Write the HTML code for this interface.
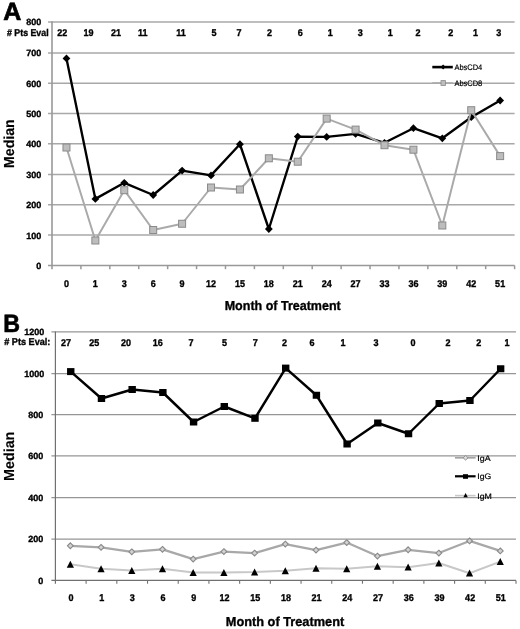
<!DOCTYPE html>
<html><head><meta charset="utf-8"><style>
html,body{margin:0;padding:0;background:#fff;}
body{width:520px;height:629px;overflow:hidden;}
svg{display:block;font-family:"Liberation Sans", sans-serif;will-change:transform;text-rendering:geometricPrecision;}
text[font-weight="bold"]{stroke:#000;stroke-width:0.35px;paint-order:stroke;}
text.lg{stroke:#000;stroke-width:0.2px;}
</style></head><body>
<svg width="520" height="629" viewBox="0 0 520 629">
<rect width="520" height="629" fill="#fff"/>
<line x1="48" y1="235" x2="514.6" y2="235" stroke="#a8a8a8" stroke-width="1.5"/>
<line x1="48" y1="204.8" x2="514.6" y2="204.8" stroke="#a8a8a8" stroke-width="1.5"/>
<line x1="48" y1="174.4" x2="514.6" y2="174.4" stroke="#a8a8a8" stroke-width="1.5"/>
<line x1="48" y1="143.85" x2="514.6" y2="143.85" stroke="#a8a8a8" stroke-width="1.5"/>
<line x1="48" y1="113.6" x2="514.6" y2="113.6" stroke="#a8a8a8" stroke-width="1.5"/>
<line x1="48" y1="83.2" x2="514.6" y2="83.2" stroke="#a8a8a8" stroke-width="1.5"/>
<line x1="48" y1="52.95" x2="514.6" y2="52.95" stroke="#a8a8a8" stroke-width="1.5"/>
<line x1="48" y1="21.95" x2="514.6" y2="21.95" stroke="#a8a8a8" stroke-width="1.5"/>
<line x1="48" y1="265.5" x2="514.6" y2="265.5" stroke="#999999" stroke-width="1.5"/>
<line x1="52" y1="21.25" x2="52" y2="269.2" stroke="#999999" stroke-width="1.6"/>
<line x1="80.91" y1="265.5" x2="80.91" y2="269.2" stroke="#999999" stroke-width="1.5"/>
<line x1="109.83" y1="265.5" x2="109.83" y2="269.2" stroke="#999999" stroke-width="1.5"/>
<line x1="138.74" y1="265.5" x2="138.74" y2="269.2" stroke="#999999" stroke-width="1.5"/>
<line x1="167.65" y1="265.5" x2="167.65" y2="269.2" stroke="#999999" stroke-width="1.5"/>
<line x1="196.56" y1="265.5" x2="196.56" y2="269.2" stroke="#999999" stroke-width="1.5"/>
<line x1="225.48" y1="265.5" x2="225.48" y2="269.2" stroke="#999999" stroke-width="1.5"/>
<line x1="254.39" y1="265.5" x2="254.39" y2="269.2" stroke="#999999" stroke-width="1.5"/>
<line x1="283.3" y1="265.5" x2="283.3" y2="269.2" stroke="#999999" stroke-width="1.5"/>
<line x1="312.21" y1="265.5" x2="312.21" y2="269.2" stroke="#999999" stroke-width="1.5"/>
<line x1="341.12" y1="265.5" x2="341.12" y2="269.2" stroke="#999999" stroke-width="1.5"/>
<line x1="370.04" y1="265.5" x2="370.04" y2="269.2" stroke="#999999" stroke-width="1.5"/>
<line x1="398.95" y1="265.5" x2="398.95" y2="269.2" stroke="#999999" stroke-width="1.5"/>
<line x1="427.86" y1="265.5" x2="427.86" y2="269.2" stroke="#999999" stroke-width="1.5"/>
<line x1="456.78" y1="265.5" x2="456.78" y2="269.2" stroke="#999999" stroke-width="1.5"/>
<line x1="485.69" y1="265.5" x2="485.69" y2="269.2" stroke="#999999" stroke-width="1.5"/>
<line x1="514.6" y1="265.5" x2="514.6" y2="269.2" stroke="#999999" stroke-width="1.5"/>
<text x="41.3" y="269" font-size="9" font-weight="bold" text-anchor="end" fill="#000">0</text>
<text x="41.3" y="238.5" font-size="9" font-weight="bold" text-anchor="end" fill="#000">100</text>
<text x="41.3" y="208.3" font-size="9" font-weight="bold" text-anchor="end" fill="#000">200</text>
<text x="41.3" y="177.9" font-size="9" font-weight="bold" text-anchor="end" fill="#000">300</text>
<text x="41.3" y="147.35" font-size="9" font-weight="bold" text-anchor="end" fill="#000">400</text>
<text x="41.3" y="117.1" font-size="9" font-weight="bold" text-anchor="end" fill="#000">500</text>
<text x="41.3" y="86.7" font-size="9" font-weight="bold" text-anchor="end" fill="#000">600</text>
<text x="41.3" y="56.45" font-size="9" font-weight="bold" text-anchor="end" fill="#000">700</text>
<text x="41.3" y="25.45" font-size="9" font-weight="bold" text-anchor="end" fill="#000">800</text>
<text transform="translate(66.46,286.8) scale(0.92,1)" font-size="9.8" font-weight="bold" text-anchor="middle" fill="#000">0</text>
<text transform="translate(95.37,286.8) scale(0.92,1)" font-size="9.8" font-weight="bold" text-anchor="middle" fill="#000">1</text>
<text transform="translate(124.28,286.8) scale(0.92,1)" font-size="9.8" font-weight="bold" text-anchor="middle" fill="#000">3</text>
<text transform="translate(153.19,286.8) scale(0.92,1)" font-size="9.8" font-weight="bold" text-anchor="middle" fill="#000">6</text>
<text transform="translate(182.11,286.8) scale(0.92,1)" font-size="9.8" font-weight="bold" text-anchor="middle" fill="#000">9</text>
<text transform="translate(211.02,286.8) scale(0.92,1)" font-size="9.8" font-weight="bold" text-anchor="middle" fill="#000">12</text>
<text transform="translate(239.93,286.8) scale(0.92,1)" font-size="9.8" font-weight="bold" text-anchor="middle" fill="#000">15</text>
<text transform="translate(268.84,286.8) scale(0.92,1)" font-size="9.8" font-weight="bold" text-anchor="middle" fill="#000">18</text>
<text transform="translate(297.76,286.8) scale(0.92,1)" font-size="9.8" font-weight="bold" text-anchor="middle" fill="#000">21</text>
<text transform="translate(326.67,286.8) scale(0.92,1)" font-size="9.8" font-weight="bold" text-anchor="middle" fill="#000">24</text>
<text transform="translate(355.58,286.8) scale(0.92,1)" font-size="9.8" font-weight="bold" text-anchor="middle" fill="#000">27</text>
<text transform="translate(384.49,286.8) scale(0.92,1)" font-size="9.8" font-weight="bold" text-anchor="middle" fill="#000">33</text>
<text transform="translate(413.41,286.8) scale(0.92,1)" font-size="9.8" font-weight="bold" text-anchor="middle" fill="#000">36</text>
<text transform="translate(442.32,286.8) scale(0.92,1)" font-size="9.8" font-weight="bold" text-anchor="middle" fill="#000">39</text>
<text transform="translate(471.23,286.8) scale(0.92,1)" font-size="9.8" font-weight="bold" text-anchor="middle" fill="#000">42</text>
<text transform="translate(500.14,286.8) scale(0.92,1)" font-size="9.8" font-weight="bold" text-anchor="middle" fill="#000">51</text>
<text x="7" y="35.6" font-size="9.8" font-weight="bold" text-anchor="start" fill="#000" textLength="41.6" lengthAdjust="spacingAndGlyphs"># Pts Eval</text>
<text transform="translate(57.3,35.9) scale(0.92,1)" font-size="9.8" font-weight="bold" text-anchor="start" fill="#000">22</text>
<text transform="translate(83.4,35.9) scale(0.92,1)" font-size="9.8" font-weight="bold" text-anchor="start" fill="#000">19</text>
<text transform="translate(111.1,35.9) scale(0.92,1)" font-size="9.8" font-weight="bold" text-anchor="start" fill="#000">21</text>
<text transform="translate(138.1,35.9) scale(0.92,1)" font-size="9.8" font-weight="bold" text-anchor="start" fill="#000">11</text>
<text transform="translate(176.2,35.9) scale(0.92,1)" font-size="9.8" font-weight="bold" text-anchor="start" fill="#000">11</text>
<text transform="translate(211.4,35.9) scale(0.92,1)" font-size="9.8" font-weight="bold" text-anchor="start" fill="#000">5</text>
<text transform="translate(236.6,35.9) scale(0.92,1)" font-size="9.8" font-weight="bold" text-anchor="start" fill="#000">7</text>
<text transform="translate(266.9,35.9) scale(0.92,1)" font-size="9.8" font-weight="bold" text-anchor="start" fill="#000">2</text>
<text transform="translate(297.7,35.9) scale(0.92,1)" font-size="9.8" font-weight="bold" text-anchor="start" fill="#000">6</text>
<text transform="translate(327.7,35.9) scale(0.92,1)" font-size="9.8" font-weight="bold" text-anchor="start" fill="#000">1</text>
<text transform="translate(357.7,35.9) scale(0.92,1)" font-size="9.8" font-weight="bold" text-anchor="start" fill="#000">3</text>
<text transform="translate(387.7,35.9) scale(0.92,1)" font-size="9.8" font-weight="bold" text-anchor="start" fill="#000">1</text>
<text transform="translate(415.4,35.9) scale(0.92,1)" font-size="9.8" font-weight="bold" text-anchor="start" fill="#000">2</text>
<text transform="translate(448.2,35.9) scale(0.92,1)" font-size="9.8" font-weight="bold" text-anchor="start" fill="#000">2</text>
<text transform="translate(473.1,35.9) scale(0.92,1)" font-size="9.8" font-weight="bold" text-anchor="start" fill="#000">1</text>
<text transform="translate(496.2,35.9) scale(0.92,1)" font-size="9.8" font-weight="bold" text-anchor="start" fill="#000">3</text>
<text x="3.2" y="19.6" font-size="25" font-weight="bold" text-anchor="start" fill="#000" style="stroke-width:0.7px">A</text>
<text transform="translate(14.4,143.6) rotate(-90)" x="0" y="0" font-size="14.5" style="stroke-width:0.15px" font-weight="bold" text-anchor="middle" textLength="48.6" lengthAdjust="spacingAndGlyphs">Median</text>
<text x="224.7" y="310.2" font-size="13" font-weight="bold" text-anchor="start" fill="#000" textLength="116" lengthAdjust="spacingAndGlyphs">Month of Treatment</text>
<polyline points="66.46,58.4 95.37,198.9 124.28,182.8 153.19,195 182.11,170.6 211.02,175.4 239.93,144.25 268.84,229 297.76,136.6 326.67,136.9 355.58,133.9 384.49,142.8 413.41,128.2 442.32,138.3 471.23,117.2 500.14,100.5" fill="none" stroke="#000" stroke-width="2.35" stroke-linejoin="round"/>
<path d="M66.46 54.5 L70.36 58.4 L66.46 62.3 L62.56 58.4 Z" fill="#000"/>
<path d="M95.37 195 L99.27 198.9 L95.37 202.8 L91.47 198.9 Z" fill="#000"/>
<path d="M124.28 178.9 L128.18 182.8 L124.28 186.7 L120.38 182.8 Z" fill="#000"/>
<path d="M153.19 191.1 L157.09 195 L153.19 198.9 L149.29 195 Z" fill="#000"/>
<path d="M182.11 166.7 L186.01 170.6 L182.11 174.5 L178.21 170.6 Z" fill="#000"/>
<path d="M211.02 171.5 L214.92 175.4 L211.02 179.3 L207.12 175.4 Z" fill="#000"/>
<path d="M239.93 140.35 L243.83 144.25 L239.93 148.15 L236.03 144.25 Z" fill="#000"/>
<path d="M268.84 225.1 L272.74 229 L268.84 232.9 L264.94 229 Z" fill="#000"/>
<path d="M297.76 132.7 L301.66 136.6 L297.76 140.5 L293.86 136.6 Z" fill="#000"/>
<path d="M326.67 133 L330.57 136.9 L326.67 140.8 L322.77 136.9 Z" fill="#000"/>
<path d="M355.58 130 L359.48 133.9 L355.58 137.8 L351.68 133.9 Z" fill="#000"/>
<path d="M384.49 138.9 L388.39 142.8 L384.49 146.7 L380.59 142.8 Z" fill="#000"/>
<path d="M413.41 124.3 L417.31 128.2 L413.41 132.1 L409.51 128.2 Z" fill="#000"/>
<path d="M442.32 134.4 L446.22 138.3 L442.32 142.2 L438.42 138.3 Z" fill="#000"/>
<path d="M471.23 113.3 L475.13 117.2 L471.23 121.1 L467.33 117.2 Z" fill="#000"/>
<path d="M500.14 96.6 L504.04 100.5 L500.14 104.4 L496.24 100.5 Z" fill="#000"/>
<polyline points="66.46,147.5 95.37,240.5 124.28,190.2 153.19,230 182.11,223.75 211.02,187.5 239.93,189.5 268.84,158.3 297.76,161.7 326.67,118.6 355.58,129.6 384.49,145.2 413.41,149.7 442.32,225.5 471.23,110.2 500.14,156.1" fill="none" stroke="#aaaaaa" stroke-width="2" stroke-linejoin="round"/>
<rect x="62.96" y="144" width="7" height="7" fill="#bdbdbd" stroke="#8a8a8a" stroke-width="1"/>
<rect x="91.87" y="237" width="7" height="7" fill="#bdbdbd" stroke="#8a8a8a" stroke-width="1"/>
<rect x="120.78" y="186.7" width="7" height="7" fill="#bdbdbd" stroke="#8a8a8a" stroke-width="1"/>
<rect x="149.69" y="226.5" width="7" height="7" fill="#bdbdbd" stroke="#8a8a8a" stroke-width="1"/>
<rect x="178.61" y="220.25" width="7" height="7" fill="#bdbdbd" stroke="#8a8a8a" stroke-width="1"/>
<rect x="207.52" y="184" width="7" height="7" fill="#bdbdbd" stroke="#8a8a8a" stroke-width="1"/>
<rect x="236.43" y="186" width="7" height="7" fill="#bdbdbd" stroke="#8a8a8a" stroke-width="1"/>
<rect x="265.34" y="154.8" width="7" height="7" fill="#bdbdbd" stroke="#8a8a8a" stroke-width="1"/>
<rect x="294.26" y="158.2" width="7" height="7" fill="#bdbdbd" stroke="#8a8a8a" stroke-width="1"/>
<rect x="323.17" y="115.1" width="7" height="7" fill="#bdbdbd" stroke="#8a8a8a" stroke-width="1"/>
<rect x="352.08" y="126.1" width="7" height="7" fill="#bdbdbd" stroke="#8a8a8a" stroke-width="1"/>
<rect x="380.99" y="141.7" width="7" height="7" fill="#bdbdbd" stroke="#8a8a8a" stroke-width="1"/>
<rect x="409.91" y="146.2" width="7" height="7" fill="#bdbdbd" stroke="#8a8a8a" stroke-width="1"/>
<rect x="438.82" y="222" width="7" height="7" fill="#bdbdbd" stroke="#8a8a8a" stroke-width="1"/>
<rect x="467.73" y="106.7" width="7" height="7" fill="#bdbdbd" stroke="#8a8a8a" stroke-width="1"/>
<rect x="496.64" y="152.6" width="7" height="7" fill="#bdbdbd" stroke="#8a8a8a" stroke-width="1"/>
<line x1="432.3" y1="67.1" x2="452.8" y2="67.1" stroke="#000" stroke-width="2.6"/>
<path d="M443.1 64.6 L445.6 67.1 L443.1 69.6 L440.6 67.1 Z" fill="#000"/>
<text x="454.4" y="69.8" font-size="8" font-weight="normal" text-anchor="start" fill="#000" textLength="27.9" lengthAdjust="spacingAndGlyphs" class="lg">AbsCD4</text>
<line x1="432.3" y1="83" x2="452.8" y2="83" stroke="#aaaaaa" stroke-width="1.6"/>
<rect x="441" y="80.6" width="4.4" height="4.8" fill="#bdbdbd" stroke="#8a8a8a" stroke-width="0.8"/>
<text x="454.4" y="85.8" font-size="8" font-weight="normal" text-anchor="start" fill="#000" textLength="27.9" lengthAdjust="spacingAndGlyphs" class="lg">AbsCD8</text>
<line x1="51.4" y1="539.06" x2="516" y2="539.06" stroke="#969696" stroke-width="1.25"/>
<line x1="51.4" y1="497.5" x2="516" y2="497.5" stroke="#969696" stroke-width="1.25"/>
<line x1="51.4" y1="455.97" x2="516" y2="455.97" stroke="#969696" stroke-width="1.25"/>
<line x1="51.4" y1="414.56" x2="516" y2="414.56" stroke="#969696" stroke-width="1.25"/>
<line x1="51.4" y1="373.66" x2="516" y2="373.66" stroke="#969696" stroke-width="1.25"/>
<line x1="51.4" y1="331.97" x2="516" y2="331.97" stroke="#969696" stroke-width="1.25"/>
<line x1="51.4" y1="580.4" x2="516" y2="580.4" stroke="#707070" stroke-width="1.1"/>
<line x1="55.4" y1="331.47" x2="55.4" y2="583.7" stroke="#707070" stroke-width="1.2"/>
<line x1="86.11" y1="580.4" x2="86.11" y2="583.7" stroke="#707070" stroke-width="1.1"/>
<line x1="116.81" y1="580.4" x2="116.81" y2="583.7" stroke="#707070" stroke-width="1.1"/>
<line x1="147.52" y1="580.4" x2="147.52" y2="583.7" stroke="#707070" stroke-width="1.1"/>
<line x1="178.23" y1="580.4" x2="178.23" y2="583.7" stroke="#707070" stroke-width="1.1"/>
<line x1="208.93" y1="580.4" x2="208.93" y2="583.7" stroke="#707070" stroke-width="1.1"/>
<line x1="239.64" y1="580.4" x2="239.64" y2="583.7" stroke="#707070" stroke-width="1.1"/>
<line x1="270.35" y1="580.4" x2="270.35" y2="583.7" stroke="#707070" stroke-width="1.1"/>
<line x1="301.05" y1="580.4" x2="301.05" y2="583.7" stroke="#707070" stroke-width="1.1"/>
<line x1="331.76" y1="580.4" x2="331.76" y2="583.7" stroke="#707070" stroke-width="1.1"/>
<line x1="362.47" y1="580.4" x2="362.47" y2="583.7" stroke="#707070" stroke-width="1.1"/>
<line x1="393.17" y1="580.4" x2="393.17" y2="583.7" stroke="#707070" stroke-width="1.1"/>
<line x1="423.88" y1="580.4" x2="423.88" y2="583.7" stroke="#707070" stroke-width="1.1"/>
<line x1="454.59" y1="580.4" x2="454.59" y2="583.7" stroke="#707070" stroke-width="1.1"/>
<line x1="485.29" y1="580.4" x2="485.29" y2="583.7" stroke="#707070" stroke-width="1.1"/>
<line x1="516" y1="580.4" x2="516" y2="583.7" stroke="#707070" stroke-width="1.1"/>
<text x="43.3" y="583.6" font-size="9" font-weight="bold" text-anchor="end" fill="#000">0</text>
<text x="43.3" y="542.26" font-size="9" font-weight="bold" text-anchor="end" fill="#000">200</text>
<text x="43.3" y="500.7" font-size="9" font-weight="bold" text-anchor="end" fill="#000">400</text>
<text x="43.3" y="459.17" font-size="9" font-weight="bold" text-anchor="end" fill="#000">600</text>
<text x="43.3" y="417.76" font-size="9" font-weight="bold" text-anchor="end" fill="#000">800</text>
<text x="44.3" y="376.86" font-size="9" font-weight="bold" text-anchor="end" fill="#000">1000</text>
<text x="44.3" y="335.17" font-size="9" font-weight="bold" text-anchor="end" fill="#000">1200</text>
<text transform="translate(70.95,601.1) scale(0.92,1)" font-size="9.8" font-weight="bold" text-anchor="middle" fill="#000">0</text>
<text transform="translate(101.66,601.1) scale(0.92,1)" font-size="9.8" font-weight="bold" text-anchor="middle" fill="#000">1</text>
<text transform="translate(132.37,601.1) scale(0.92,1)" font-size="9.8" font-weight="bold" text-anchor="middle" fill="#000">3</text>
<text transform="translate(163.07,601.1) scale(0.92,1)" font-size="9.8" font-weight="bold" text-anchor="middle" fill="#000">6</text>
<text transform="translate(193.78,601.1) scale(0.92,1)" font-size="9.8" font-weight="bold" text-anchor="middle" fill="#000">9</text>
<text transform="translate(224.49,601.1) scale(0.92,1)" font-size="9.8" font-weight="bold" text-anchor="middle" fill="#000">12</text>
<text transform="translate(255.19,601.1) scale(0.92,1)" font-size="9.8" font-weight="bold" text-anchor="middle" fill="#000">15</text>
<text transform="translate(285.9,601.1) scale(0.92,1)" font-size="9.8" font-weight="bold" text-anchor="middle" fill="#000">18</text>
<text transform="translate(316.61,601.1) scale(0.92,1)" font-size="9.8" font-weight="bold" text-anchor="middle" fill="#000">21</text>
<text transform="translate(347.31,601.1) scale(0.92,1)" font-size="9.8" font-weight="bold" text-anchor="middle" fill="#000">24</text>
<text transform="translate(378.02,601.1) scale(0.92,1)" font-size="9.8" font-weight="bold" text-anchor="middle" fill="#000">27</text>
<text transform="translate(408.73,601.1) scale(0.92,1)" font-size="9.8" font-weight="bold" text-anchor="middle" fill="#000">36</text>
<text transform="translate(439.43,601.1) scale(0.92,1)" font-size="9.8" font-weight="bold" text-anchor="middle" fill="#000">39</text>
<text transform="translate(470.14,601.1) scale(0.92,1)" font-size="9.8" font-weight="bold" text-anchor="middle" fill="#000">42</text>
<text transform="translate(500.85,601.1) scale(0.92,1)" font-size="9.8" font-weight="bold" text-anchor="middle" fill="#000">51</text>
<text x="4.2" y="345.3" font-size="9.8" font-weight="bold" text-anchor="start" fill="#000" textLength="46.2" lengthAdjust="spacingAndGlyphs"># Pts Eval:</text>
<text transform="translate(60.9,345.5) scale(0.92,1)" font-size="9.8" font-weight="bold" text-anchor="start" fill="#000">27</text>
<text transform="translate(89.3,345.5) scale(0.92,1)" font-size="9.8" font-weight="bold" text-anchor="start" fill="#000">25</text>
<text transform="translate(121.1,345.5) scale(0.92,1)" font-size="9.8" font-weight="bold" text-anchor="start" fill="#000">20</text>
<text transform="translate(152.8,345.5) scale(0.92,1)" font-size="9.8" font-weight="bold" text-anchor="start" fill="#000">16</text>
<text transform="translate(188.6,345.5) scale(0.92,1)" font-size="9.8" font-weight="bold" text-anchor="start" fill="#000">7</text>
<text transform="translate(222,345.5) scale(0.92,1)" font-size="9.8" font-weight="bold" text-anchor="start" fill="#000">5</text>
<text transform="translate(252.7,345.5) scale(0.92,1)" font-size="9.8" font-weight="bold" text-anchor="start" fill="#000">7</text>
<text transform="translate(281.9,345.5) scale(0.92,1)" font-size="9.8" font-weight="bold" text-anchor="start" fill="#000">2</text>
<text transform="translate(309.6,345.5) scale(0.92,1)" font-size="9.8" font-weight="bold" text-anchor="start" fill="#000">6</text>
<text transform="translate(340.6,345.5) scale(0.92,1)" font-size="9.8" font-weight="bold" text-anchor="start" fill="#000">1</text>
<text transform="translate(373.6,345.5) scale(0.92,1)" font-size="9.8" font-weight="bold" text-anchor="start" fill="#000">3</text>
<text transform="translate(410.5,345.5) scale(0.92,1)" font-size="9.8" font-weight="bold" text-anchor="start" fill="#000">0</text>
<text transform="translate(445.6,345.5) scale(0.92,1)" font-size="9.8" font-weight="bold" text-anchor="start" fill="#000">2</text>
<text transform="translate(476.3,345.5) scale(0.92,1)" font-size="9.8" font-weight="bold" text-anchor="start" fill="#000">2</text>
<text transform="translate(504.4,345.5) scale(0.92,1)" font-size="9.8" font-weight="bold" text-anchor="start" fill="#000">1</text>
<text transform="translate(3.2,331.7) scale(0.93,1)" font-size="25" font-weight="bold" text-anchor="start" fill="#000" style="stroke-width:0.6px">B</text>
<text transform="translate(13.8,456.3) rotate(-90)" x="0" y="0" font-size="14.5" style="stroke-width:0.15px" font-weight="bold" text-anchor="middle" textLength="49.3" lengthAdjust="spacingAndGlyphs">Median</text>
<text x="225.8" y="625.6" font-size="13" font-weight="bold" text-anchor="start" fill="#000" textLength="118.4" lengthAdjust="spacingAndGlyphs">Month of Treatment</text>
<polyline points="70.35,564.3 101.06,568.75 131.77,570.5 162.47,568.75 193.18,572.5 223.89,572.5 254.59,572 285.3,570.75 316.01,568.25 346.71,568.75 377.42,566.25 408.13,567.2 438.83,563 469.54,573.2 500.25,561.6" fill="none" stroke="#c8c8c8" stroke-width="2" stroke-linejoin="round"/>
<polyline points="70.35,545.8 101.06,547.35 131.77,551.85 162.47,549.35 193.18,559.1 223.89,551.6 254.59,553.1 285.3,544.1 316.01,550.1 346.71,542.6 377.42,556.1 408.13,549.8 438.83,553.1 469.54,540.9 500.25,550.9" fill="none" stroke="#a8a8a8" stroke-width="2.2" stroke-linejoin="round"/>
<polyline points="70.75,371.6 101.46,398.5 132.17,389.5 162.87,392.5 193.58,422 224.29,406.5 254.99,418.3 285.7,368.1 316.41,395.25 347.11,444 377.82,423 408.53,433.75 439.23,403.5 469.94,400.5 500.65,368.75" fill="none" stroke="#000" stroke-width="2.45" stroke-linejoin="round"/>
<rect x="67.05" y="368.1" width="7.4" height="7" fill="#000"/>
<rect x="97.76" y="395" width="7.4" height="7" fill="#000"/>
<rect x="128.47" y="386" width="7.4" height="7" fill="#000"/>
<rect x="159.17" y="389" width="7.4" height="7" fill="#000"/>
<rect x="189.88" y="418.5" width="7.4" height="7" fill="#000"/>
<rect x="220.59" y="403" width="7.4" height="7" fill="#000"/>
<rect x="251.29" y="414.8" width="7.4" height="7" fill="#000"/>
<rect x="282" y="364.6" width="7.4" height="7" fill="#000"/>
<rect x="312.71" y="391.75" width="7.4" height="7" fill="#000"/>
<rect x="343.41" y="440.5" width="7.4" height="7" fill="#000"/>
<rect x="374.12" y="419.5" width="7.4" height="7" fill="#000"/>
<rect x="404.83" y="430.25" width="7.4" height="7" fill="#000"/>
<rect x="435.53" y="400" width="7.4" height="7" fill="#000"/>
<rect x="466.24" y="397" width="7.4" height="7" fill="#000"/>
<rect x="496.95" y="365.25" width="7.4" height="7" fill="#000"/>
<path d="M70.35 542.9 L73.25 545.8 L70.35 548.7 L67.45 545.8 Z" fill="#d2d2d2" stroke="#8a8a8a" stroke-width="1.15"/>
<path d="M101.06 544.45 L103.96 547.35 L101.06 550.25 L98.16 547.35 Z" fill="#d2d2d2" stroke="#8a8a8a" stroke-width="1.15"/>
<path d="M131.77 548.95 L134.67 551.85 L131.77 554.75 L128.87 551.85 Z" fill="#d2d2d2" stroke="#8a8a8a" stroke-width="1.15"/>
<path d="M162.47 546.45 L165.37 549.35 L162.47 552.25 L159.57 549.35 Z" fill="#d2d2d2" stroke="#8a8a8a" stroke-width="1.15"/>
<path d="M193.18 556.2 L196.08 559.1 L193.18 562 L190.28 559.1 Z" fill="#d2d2d2" stroke="#8a8a8a" stroke-width="1.15"/>
<path d="M223.89 548.7 L226.79 551.6 L223.89 554.5 L220.99 551.6 Z" fill="#d2d2d2" stroke="#8a8a8a" stroke-width="1.15"/>
<path d="M254.59 550.2 L257.49 553.1 L254.59 556 L251.69 553.1 Z" fill="#d2d2d2" stroke="#8a8a8a" stroke-width="1.15"/>
<path d="M285.3 541.2 L288.2 544.1 L285.3 547 L282.4 544.1 Z" fill="#d2d2d2" stroke="#8a8a8a" stroke-width="1.15"/>
<path d="M316.01 547.2 L318.91 550.1 L316.01 553 L313.11 550.1 Z" fill="#d2d2d2" stroke="#8a8a8a" stroke-width="1.15"/>
<path d="M346.71 539.7 L349.61 542.6 L346.71 545.5 L343.81 542.6 Z" fill="#d2d2d2" stroke="#8a8a8a" stroke-width="1.15"/>
<path d="M377.42 553.2 L380.32 556.1 L377.42 559 L374.52 556.1 Z" fill="#d2d2d2" stroke="#8a8a8a" stroke-width="1.15"/>
<path d="M408.13 546.9 L411.03 549.8 L408.13 552.7 L405.23 549.8 Z" fill="#d2d2d2" stroke="#8a8a8a" stroke-width="1.15"/>
<path d="M438.83 550.2 L441.73 553.1 L438.83 556 L435.93 553.1 Z" fill="#d2d2d2" stroke="#8a8a8a" stroke-width="1.15"/>
<path d="M469.54 538 L472.44 540.9 L469.54 543.8 L466.64 540.9 Z" fill="#d2d2d2" stroke="#8a8a8a" stroke-width="1.15"/>
<path d="M500.25 548 L503.15 550.9 L500.25 553.8 L497.35 550.9 Z" fill="#d2d2d2" stroke="#8a8a8a" stroke-width="1.15"/>
<path d="M70.35 560.7 L73.95 567.7 L66.75 567.7 Z" fill="#000"/>
<path d="M101.06 565.15 L104.66 572.15 L97.46 572.15 Z" fill="#000"/>
<path d="M131.77 566.9 L135.37 573.9 L128.17 573.9 Z" fill="#000"/>
<path d="M162.47 565.15 L166.07 572.15 L158.87 572.15 Z" fill="#000"/>
<path d="M193.18 568.9 L196.78 575.9 L189.58 575.9 Z" fill="#000"/>
<path d="M223.89 568.9 L227.49 575.9 L220.29 575.9 Z" fill="#000"/>
<path d="M254.59 568.4 L258.19 575.4 L250.99 575.4 Z" fill="#000"/>
<path d="M285.3 567.15 L288.9 574.15 L281.7 574.15 Z" fill="#000"/>
<path d="M316.01 564.65 L319.61 571.65 L312.41 571.65 Z" fill="#000"/>
<path d="M346.71 565.15 L350.31 572.15 L343.11 572.15 Z" fill="#000"/>
<path d="M377.42 562.65 L381.02 569.65 L373.82 569.65 Z" fill="#000"/>
<path d="M408.13 563.6 L411.73 570.6 L404.53 570.6 Z" fill="#000"/>
<path d="M438.83 559.4 L442.43 566.4 L435.23 566.4 Z" fill="#000"/>
<path d="M469.54 569.6 L473.14 576.6 L465.94 576.6 Z" fill="#000"/>
<path d="M500.25 558 L503.85 565 L496.65 565 Z" fill="#000"/>
<line x1="455" y1="457.8" x2="475.6" y2="457.8" stroke="#a4a4a4" stroke-width="1.7"/>
<path d="M465.6 455.4 L468 457.8 L465.6 460.2 L463.2 457.8 Z" fill="#dcdcdc" stroke="#8a8a8a" stroke-width="0.9"/>
<text x="477.3" y="460.6" font-size="8" font-weight="normal" text-anchor="start" fill="#000" textLength="13.3" lengthAdjust="spacingAndGlyphs" class="lg">IgA</text>
<line x1="455" y1="476.3" x2="475.6" y2="476.3" stroke="#000" stroke-width="2.2"/>
<rect x="463" y="474.2" width="5" height="4.6" fill="#000"/>
<text x="477.3" y="479.3" font-size="8" font-weight="normal" text-anchor="start" fill="#000" textLength="14" lengthAdjust="spacingAndGlyphs" class="lg">IgG</text>
<line x1="455" y1="495.6" x2="475.6" y2="495.6" stroke="#c8c8c8" stroke-width="1.6"/>
<path d="M465.6 493 L467.8 497.3 L463.4 497.3 Z" fill="#000"/>
<text x="477.3" y="498.8" font-size="8" font-weight="normal" text-anchor="start" fill="#000" textLength="14.6" lengthAdjust="spacingAndGlyphs" class="lg">IgM</text>
</svg>
</body></html>
